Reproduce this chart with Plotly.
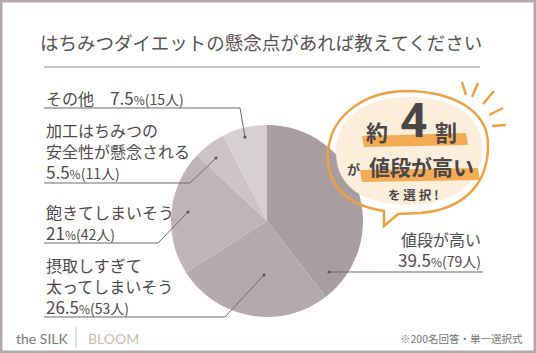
import plotly.graph_objects as go

W, H = 536, 353

# ---- data ----
categories = ["値段が高い", "摂取しすぎて太ってしまいそう", "飽きてしまいそう",
              "加工はちみつの安全性が懸念される", "その他"]
label_lines = [["値段が高い"], ["摂取しすぎて", "太ってしまいそう"], ["飽きてしまいそう"],
               ["加工はちみつの", "安全性が懸念される"], ["その他"]]
percents = [39.5, 26.5, 21, 5.5, 7.5]
counts = [79, 53, 42, 11, 15]
slice_colors = ["#a89ea0", "#b4a9ab", "#bfb4b6", "#ccc4c5", "#d7d0d1"]

title_text = "はちみつダイエットの懸念点があれば教えてください"
note_text = "※200名回答・単一選択式"

TXT = "#4e4a4b"
ORANGE = "#f0a040"
FONT = "Noto Sans CJK JP"


def px(x):
    return x / W


def py(y):
    return 1 - y / H


def P(x, y):
    return f"{px(x):.4f},{py(y):.4f}"


# pie placement (center 267,221 radius 96)
cx, cy, r = 267, 221, 96

fig = go.Figure(go.Pie(
    labels=categories, values=percents, sort=False, direction="clockwise",
    rotation=0, marker=dict(colors=slice_colors, line=dict(width=0)),
    textinfo="none", hoverinfo="label+percent", showlegend=False,
    domain=dict(x=[px(cx - r), px(cx + r)], y=[py(cy + r), py(cy - r)]),
))

shapes = []
annotations = []


def add_text(t, x, y, size, color=TXT, xa="left", family=FONT, ya="middle"):
    annotations.append(dict(text=t, x=px(x), y=py(y), xref="paper", yref="paper",
                            showarrow=False, xanchor=xa, yanchor=ya,
                            align=xa if xa != "center" else "center",
                            font=dict(family=family, size=size, color=color)))


# border
shapes.append(dict(type="rect", xref="paper", yref="paper", x0=0, x1=1, y0=0, y1=1,
                   line=dict(color="#b3a9ab", width=5), layer="above"))
# title
add_text(title_text, 261, 42, 18.5, color="#575354", xa="center")
shapes.append(dict(type="line", xref="paper", yref="paper", x0=px(44), x1=px(480),
                   y0=py(67), y1=py(67), line=dict(color="#b8b4b5", width=1.5)))


def pct_rich(p, c):
    return (f"<span style='font-size:17px'>{p:g}</span>"
            f"<span style='font-size:12px'>%</span>"
            f"<span style='font-size:14px'>({c}人)</span>")


# label layout: anchor x, block centre y, xanchor, underline (x0, x1, y), dot
label_pos = [
    dict(x=483, y=250, xa="right", u=(330, 483, 272), dot=(329, 272)),
    dict(x=44, y=286, xa="left", u=(44, 225, 317), dot=(264, 275)),
    dict(x=44, y=222, xa="left", u=(44, 158, 243), dot=(188, 212)),
    dict(x=44, y=151, xa="left", u=(44, 190, 183), dot=(216, 158)),
    dict(x=44, y=97, xa="left", u=(44, 240, 108), dot=(245, 137), inline=True),
]

for i, lp in enumerate(label_pos):
    lines = label_lines[i]
    if lp.get("inline"):
        txt = lines[0] + "　" + pct_rich(percents[i], counts[i])
    else:
        txt = "<br>".join(list(lines) + [pct_rich(percents[i], counts[i])])
    add_text(txt, lp["x"], lp["y"], 16, xa=lp["xa"])
    u0, u1, uy = lp["u"]
    dx, dy = lp["dot"]
    if lp["xa"] == "left":
        path = f"M{P(u0, uy)} L{P(u1, uy)} L{P(dx, dy)}"
    else:
        path = f"M{P(u1, uy)} L{P(dx, dy)}"
    shapes.append(dict(type="path", xref="paper", yref="paper", path=path,
                       line=dict(color="#6e6869", width=1), layer="above"))
    shapes.append(dict(type="circle", xref="paper", yref="paper",
                       x0=px(dx - 1.6), x1=px(dx + 1.6), y0=py(dy + 1.6), y1=py(dy - 1.6),
                       fillcolor="#5e5859", line=dict(width=0), layer="above"))

# bubble peach fill
fill_path = (f"M{P(336, 152)} C{P(336, 112)} {P(373, 97)} {P(410, 97)} "
             f"C{P(452, 97)} {P(482, 115)} {P(482, 148)} "
             f"C{P(482, 186)} {P(450, 205)} {P(410, 205)} "
             f"C{P(368, 205)} {P(336, 190)} {P(336, 152)} Z")
shapes.append(dict(type="path", xref="paper", yref="paper", path=fill_path,
                   fillcolor="#fdeedc", line=dict(width=0), layer="above"))
# highlight strokes
shapes.append(dict(type="path", xref="paper", yref="paper",
                   path=f"M{P(362, 136)} L{P(466, 133)} L{P(468, 145)} L{P(364, 147)} Z",
                   fillcolor="#f3ac55", line=dict(width=0), layer="above"))
shapes.append(dict(type="path", xref="paper", yref="paper",
                   path=f"M{P(360, 170)} L{P(478, 168)} L{P(480, 180)} L{P(362, 182)} Z",
                   fillcolor="#f3ac55", line=dict(width=0), layer="above"))
# bubble outline
out_path = (f"M{P(328, 160)} C{P(326, 118)} {P(362, 92)} {P(405, 91)} "
            f"C{P(452, 91)} {P(489, 110)} {P(488, 146)} "
            f"C{P(488, 187)} {P(460, 210)} {P(420, 213)} "
            f"L{P(398, 214)} L{P(384, 226)} L{P(384, 211)} "
            f"C{P(350, 206)} {P(329, 188)} {P(328, 160)}")
shapes.append(dict(type="path", xref="paper", yref="paper", path=out_path,
                   line=dict(color=ORANGE, width=2.5), layer="above"))
# rays
for (x0, y0, x1, y1) in [(462, 82, 466, 95), (478, 83, 472, 97), (494, 91, 483, 104),
                         (503, 108, 489, 115), (506, 125, 492, 126)]:
    shapes.append(dict(type="line", xref="paper", yref="paper", x0=px(x0), y0=py(y0),
                       x1=px(x1), y1=py(y1), line=dict(color=ORANGE, width=2.5), layer="above"))

# bubble text
BT = "#4a4647"
add_text("<b>約</b>", 377, 131, 22, color=BT, xa="center")
add_text("<b>4</b>", 414, 120, 48, color=BT, xa="center", family="Roboto")
add_text("<b>割</b>", 446, 131, 22, color=BT, xa="center")
add_text("<b>が</b>", 353, 168, 13, color=BT, xa="center")
add_text("<b>値段が高い</b>", 421, 166, 21, color=BT, xa="center")
add_text("<b>を 選 択 !</b>", 413, 194, 12.5, color=BT, xa="center")

# footer
add_text("the SILK", 14, 338, 14, color="#7a7677", family="Lato")
shapes.append(dict(type="line", xref="paper", yref="paper", x0=px(76), x1=px(76),
                   y0=py(327), y1=py(348), line=dict(color="#c8c2c3", width=1)))
add_text("BLOOM", 86, 338, 14, color="#c9bdb2", family="Lato")
add_text(note_text, 525, 338, 10.5, color="#777374", xa="right")

fig.update_layout(width=W, height=H, autosize=False, margin=dict(l=0, r=0, t=0, b=0),
                  paper_bgcolor="white", plot_bgcolor="white",
                  shapes=shapes, annotations=annotations)

fig.write_html("out.html")
